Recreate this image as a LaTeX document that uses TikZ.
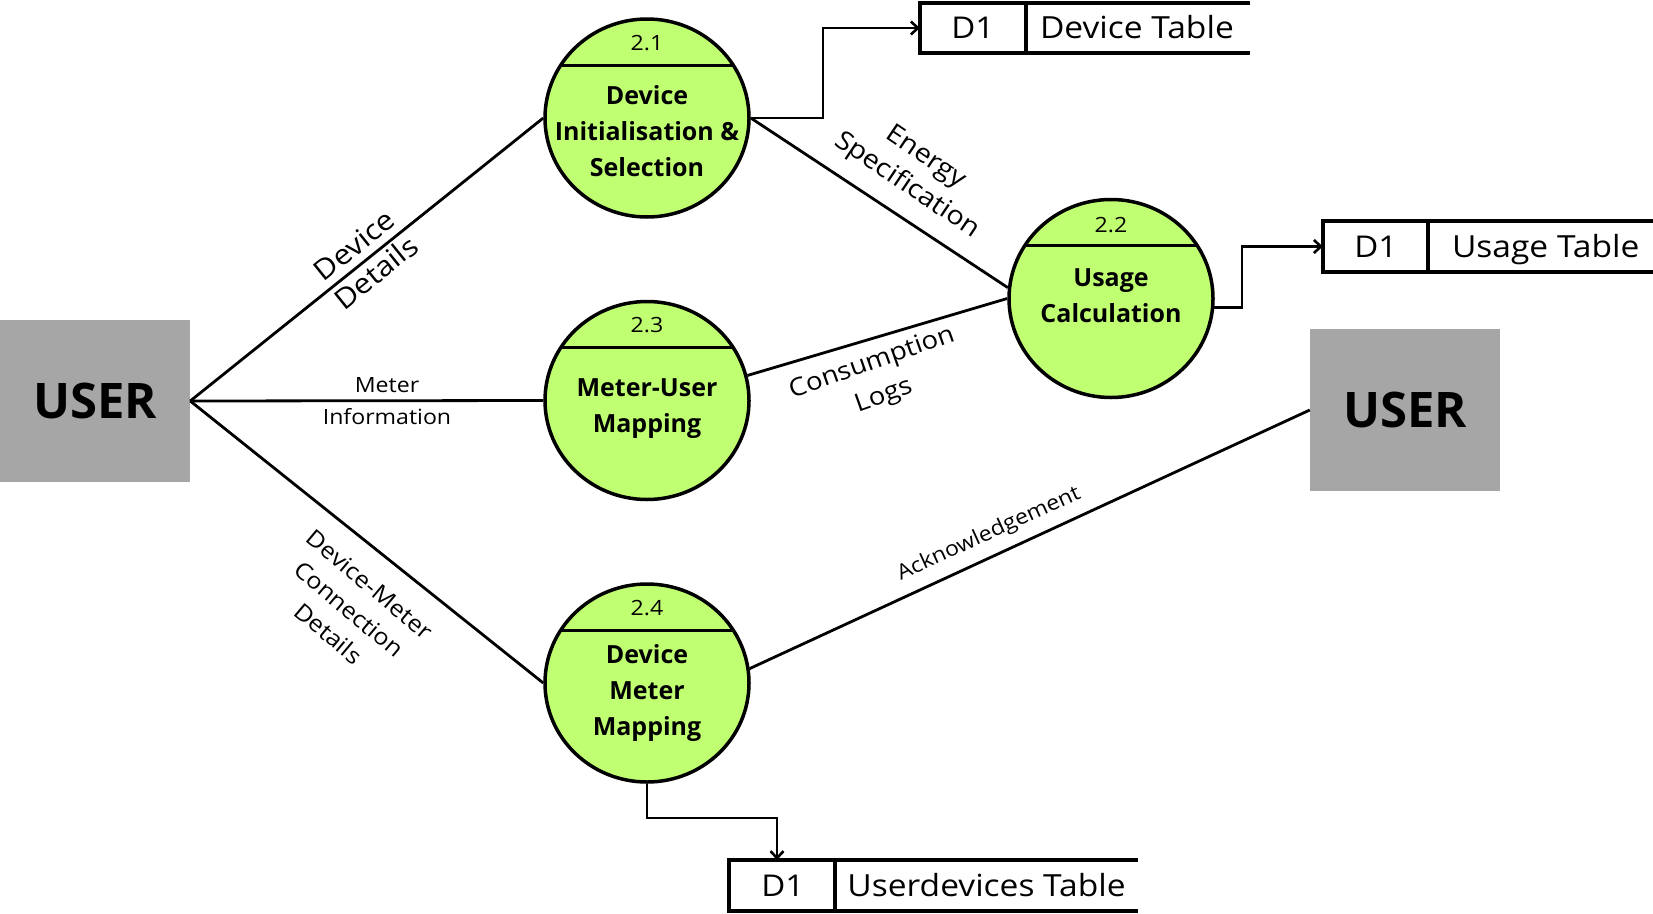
\documentclass[tikz,border=0pt]{standalone}
\usepackage{fontspec}
\setmainfont{Open Sans}
\newfontfamily\lblfont[FakeStretch=1.1]{Open Sans}
\usetikzlibrary{shapes.geometric,arrows.meta,calc}
\definecolor{procgreen}{HTML}{C1FF72}
\definecolor{entgray}{HTML}{A6A6A6}
\tikzset{
  proc/.style={ellipse, draw=black, line width=3.5pt, fill=procgreen,
    minimum width=204pt, minimum height=198pt, inner sep=0pt,
    path picture={\draw[line width=3pt] ($(path picture bounding box.center)+(-130pt,53pt)$) -- ++(260pt,0pt);}},
  ent/.style={rectangle, fill=entgray, inner sep=0pt, minimum width=190pt, minimum height=162pt,
    font=\bfseries\fontsize{49}{52}\selectfont},
  storebox/.style={rectangle, inner sep=0pt},
  storeline/.style={line width=4pt},
  flow/.style={line width=2.8pt},
  arr/.style={line width=2.6pt, -{Straight Barb[length=7pt,width=13pt]}},
  ptitle/.style={font=\bfseries\fontsize{25}{36}\selectfont, align=center, inner sep=0pt},
  pnum/.style={font=\lblfont\fontsize{21}{24}\selectfont, anchor=base, inner sep=0pt},
  sid/.style={font=\lblfont\fontsize{30}{34}\selectfont, anchor=base, inner sep=0pt},
  stext/.style={font=\lblfont\fontsize{30.5}{34}\selectfont, anchor=base west, inner sep=0pt},
  flabel/.style={align=center, inner sep=0pt}
}
\begin{document}
\begin{tikzpicture}[x=1pt,y=-1pt]
\fill[white] (0,0) rectangle (1653,913);
\useasboundingbox (0,0) rectangle (1653,913);

% external entities
\node[ent] (u1) at (95,401) {USER};
\node[ent] (u2) at (1405,410) {USER};

% processes
\node[proc] (c21) at (647,118) {};
\node[pnum] (n21) at ($(c21)+(0,-68)$) {2.1};
\node[ptitle] (t21) at ($(c21)+(0,13)$) {Device\\Initialisation \&\\Selection};

\node[proc] (c22) at (1111,298.5) {};
\node[pnum] (n22) at ($(c22)+(0,-66)$) {2.2};
\node[ptitle] (t22) at ($(c22)+(0,-3)$) {Usage\\Calculation};

\node[proc] (c23) at (647,400.5) {};
\node[pnum] (n23) at ($(c23)+(0,-68)$) {2.3};
\node[ptitle] (t23) at ($(c23)+(0,8)$) {Meter-User\\Mapping};

\node[proc] (c24) at (647,683) {};
\node[pnum] (n24) at ($(c24)+(0,-68)$) {2.4};
\node[ptitle] (t24) at ($(c24)+(0,10)$) {Device\\Meter\\Mapping};

% data stores
\node[storebox, minimum width=330pt, minimum height=50pt] (s1) at (1085,28) {};
\draw[storeline] (s1.north east) -- (s1.north west) -- (s1.south west) -- (s1.south east);
\draw[storeline] ($(s1.north west)+(106,0)$) -- ($(s1.south west)+(106,0)$);
\node[sid] (s1id) at ($(s1.west)+(53,10.5)$) {D1};
\node[stext] (s1t) at ($(s1.west)+(120,10.5)$) {Device Table};

\node[storebox, minimum width=330pt, minimum height=51pt] (s2) at (1488,246.5) {};
\draw[storeline] (s2.north east) -- (s2.north west) -- (s2.south west) -- (s2.south east);
\draw[storeline] ($(s2.north west)+(105,0)$) -- ($(s2.south west)+(105,0)$);
\node[sid] (s2id) at ($(s2.west)+(53,10.5)$) {D1};
\node[stext] (s2t) at ($(s2.west)+(129,10.5)$) {Usage Table};

\node[storebox, minimum width=408.5pt, minimum height=51pt] (s3) at (933.7,885.7) {};
\draw[storeline] (s3.north east) -- (s3.north west) -- (s3.south west) -- (s3.south east);
\draw[storeline] ($(s3.north west)+(105.5,0)$) -- ($(s3.south west)+(105.5,0)$);
\node[sid] (s3id) at ($(s3.west)+(53.5,10.5)$) {D1};
\node[stext] (s3t) at ($(s3.west)+(118,10.5)$) {Userdevices Table};

% bend points
\coordinate (b1) at (823,28);
\coordinate (b2) at (1242,246.5);
\coordinate (b3) at (777,818);

% flows
\draw[flow] (u1.east) -- (c21.west);
\draw[flow] (u1.east) -- (c23.west);
\draw[flow] (u1.east) -- (c24.west);
\draw[flow] (c21.east) -- (c22.174);
\draw[flow] (c23.14) -- (c22.west);
\draw[flow] (c24.8) -- (u2.west);
\draw[arr] (c21.east) -| (b1) -- (s1.west);
\draw[arr] (c22.-5) -| (b2) -- (s2.west);
\draw[arr] (c24.south) |- (b3) -- (b3 |- s3.north);

% flow labels
\node[flabel, font=\lblfont\fontsize{28}{35}\selectfont, rotate=38.7] (l1) at (365,259) {Device\\Details};
\node[flabel, font=\lblfont\fontsize{21}{31.7}\selectfont] (l2) at (387,401) {Meter\\Information};
\node[flabel, font=\lblfont\fontsize{26}{34}\selectfont, rotate=-34] (l3) at (916,172) {Energy\\Specification};
\node[flabel, font=\lblfont\fontsize{25}{35}\selectfont, rotate=19.5] (l4) at (878,380) {Consumption\\Logs};
\node[flabel, font=\lblfont\fontsize{23}{32}\selectfont, rotate=-40] (l5) at (349,609) {Device-Meter\\Connection\\Details};
\node[flabel, font=\lblfont\fontsize{21}{25}\selectfont, rotate=24.5] (l6) at (989,534) {Acknowledgement};
\end{tikzpicture}
\end{document}
